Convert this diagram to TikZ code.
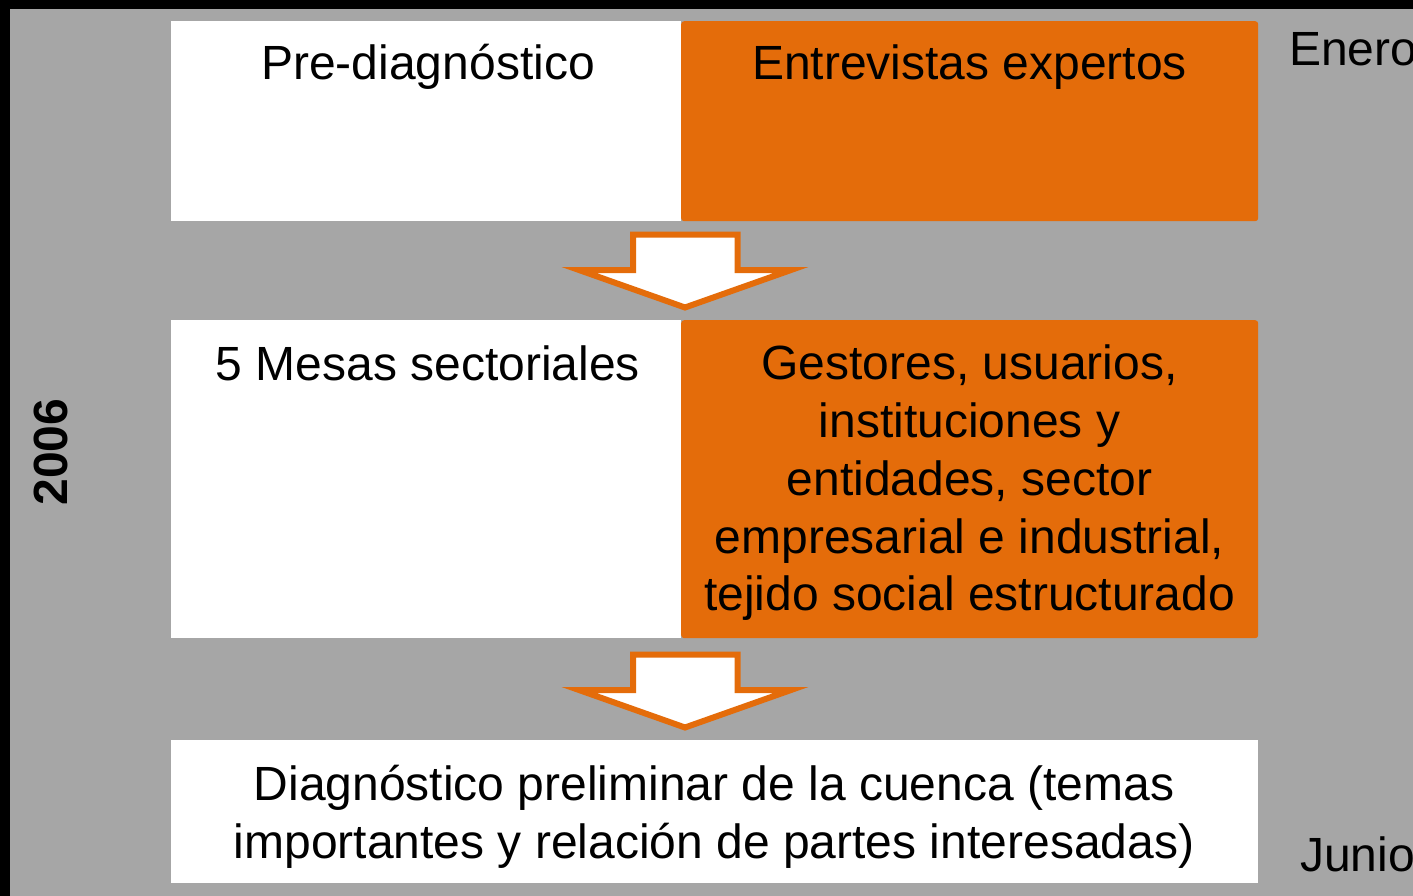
\documentclass[tikz,border=0pt]{standalone}
\usepackage{fontspec}
\setmainfont{Liberation Sans}
\definecolor{bggray}{HTML}{A6A6A6}
\definecolor{orng}{HTML}{E46C0A}
\begin{document}
\begin{tikzpicture}[x=1pt,y=-1pt,
  whitebox/.style={fill=white, draw=none, inner sep=0pt, anchor=north west},
  orangebox/.style={fill=orng, draw=none, rounded corners=3pt, inner sep=0pt, anchor=north west},
  lbl/.style={inner sep=0pt, text=black, font=\fontsize{48}{57.7}\selectfont, align=center},
  blockarrow/.style={draw=orng, fill=white, line width=6pt, line join=miter}]
\useasboundingbox (0,0) rectangle (1413,896);
\fill[black] (0,0) rectangle (1413,896);
\fill[bggray] (10,9) rectangle (1413,896);
% boxes
\node[whitebox, minimum width=510pt, minimum height=200pt] (w1) at (171,21) {};
\node[orangebox, minimum width=577pt, minimum height=200pt] (o1) at (681,21) {};
\node[whitebox, minimum width=510pt, minimum height=318pt] (w2) at (171,320) {};
\node[orangebox, minimum width=577pt, minimum height=318pt] (o2) at (681,320) {};
\node[whitebox, minimum width=1087pt, minimum height=143pt] (w3) at (171,740) {};
% texts
\node[lbl, anchor=base] (t1) at (428,80) {Pre-diagnóstico};
\node[lbl, anchor=base] (t2) at (969.5,80) {Entrevistas expertos};
\node[lbl, anchor=base] (t3) at (428,380) {5 Mesas sectoriales};
\node[lbl, anchor=north] (t4) at (969.5,345) {Gestores, usuarios,\\instituciones y\\entidades, sector\\empresarial e industrial,\\tejido social estructurado};
\node[lbl, anchor=north] (t5) at (714,765) {Diagnóstico preliminar de la cuenca (temas\\importantes y relación de partes interesadas)};
\node[lbl, anchor=base west] (enero) at (1289,66) {Enero};
\node[lbl, anchor=base west] (junio) at (1300,871) {Junio};
\node[lbl, font=\fontsize{48}{57.7}\selectfont\bfseries, rotate=90] (yr) at (50.5,452) {2006};
% block arrows
\draw[blockarrow] (633,234.5) -- (737.5,234.5) -- (737.5,270) -- (791,270) -- (685,307.5) -- (579,270) -- (633,270) -- cycle;
\draw[blockarrow] (633,654.5) -- (737.5,654.5) -- (737.5,690) -- (791,690) -- (685,727.5) -- (579,690) -- (633,690) -- cycle;
\end{tikzpicture}
\end{document}
